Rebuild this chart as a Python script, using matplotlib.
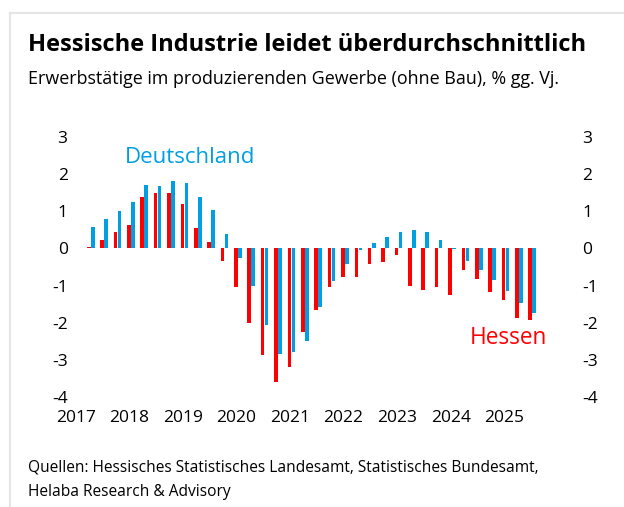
import matplotlib
matplotlib.use("Agg")
from matplotlib import pyplot as plt
from matplotlib.lines import Line2D
import numpy as np

# quarterly values, 2017 Q1 .. 2025 Q2, % gg. Vj.
hessen = [0.05, 0.23, 0.43, 0.64, 1.39, 1.49, 1.49, 1.19,
          0.56, 0.16, -0.35, -1.05, -2.0, -2.88, -3.6, -3.2,
          -2.26, -1.66, -1.04, -0.77, -0.77, -0.41, -0.36, -0.19,
          -1.02, -1.12, -1.05, -1.25, -0.59, -0.81, -1.18, -1.38,
          -1.86, -1.92]
deutschland = [0.59, 0.78, 1.0, 1.24, 1.70, 1.68, 1.81, 1.77,
               1.38, 1.03, 0.40, -0.25, -1.0, -2.05, -2.84, -2.8,
               -2.49, -1.57, -0.88, -0.41, -0.05, 0.15, 0.32, 0.45,
               0.49, 0.44, 0.22, -0.02, -0.35, -0.57, -0.84, -1.15,
               -1.48, -1.75]
years = ["2017", "2018", "2019", "2020", "2021", "2022", "2023", "2024", "2025"]
yticks = [3, 2, 1, 0, -1, -2, -3, -4]

RED = "#FF0000"
BLUE = "#009FE3"

W, H = 624, 507
plt.rcParams["font.family"] = "Open Sans"
fig = plt.figure(figsize=(W / 100, H / 100), dpi=100)

# light frame like the source card
fig.add_artist(Line2D([10 / W, 10 / W], [0, 1 - 13 / H], color="#e6e6e6", lw=1.6, transform=fig.transFigure))
fig.add_artist(Line2D([10 / W, 1], [1 - 13 / H, 1 - 13 / H], color="#e6e6e6", lw=1.6, transform=fig.transFigure))

# plot area in pixels
left, right, top, bottom = 76, 574, 137, 397
ax = fig.add_axes([left / W, 1 - bottom / H, (right - left) / W, (bottom - top) / H])

x = np.arange(len(hessen))
w = 0.27
ax.bar(x - 0.15, hessen, width=w, color=RED, linewidth=0)
ax.bar(x + 0.15, deutschland, width=w, color=BLUE, linewidth=0)

ax.set_ylim(-4, 3)
ax.set_xlim((left - 90) / 13.4, (right - 90) / 13.4)
ax.set_yticks(yticks)
ax.set_yticklabels([str(v) for v in yticks])
ax.set_xticks(np.arange(len(years)) * 4 - 1.1)
ax.set_xticklabels(years)
ax.tick_params(axis="y", length=0, labelsize=12.5, labelleft=True, labelright=True, pad=6)
ax.tick_params(axis="x", length=0, labelsize=12.5, pad=9)
for s in ax.spines.values():
    s.set_visible(False)

ax.text(2.55, 2.45, "Deutschland", color=BLUE, fontsize=16, ha="left", va="center")
ax.text(28.3, -2.4, "Hessen", color=RED, fontsize=16.3, ha="left", va="center")

fig.text(28 / W, 1 - 45 / H, "Hessische Industrie leidet überdurchschnittlich",
         fontsize=17, fontweight="bold", ha="left", va="center")
fig.text(28 / W, 1 - 79 / H, "Erwerbstätige im produzierenden Gewerbe (ohne Bau), % gg. Vj.",
         fontsize=12.9, ha="left", va="center")
fig.text(28 / W, 1 - 467 / H, "Quellen: Hessisches Statistisches Landesamt, Statistisches Bundesamt,",
         fontsize=11.2, ha="left", va="center")
fig.text(28 / W, 1 - 492 / H, "Helaba Research & Advisory",
         fontsize=11.2, ha="left", va="center")

fig.savefig("out.png", dpi=100)
